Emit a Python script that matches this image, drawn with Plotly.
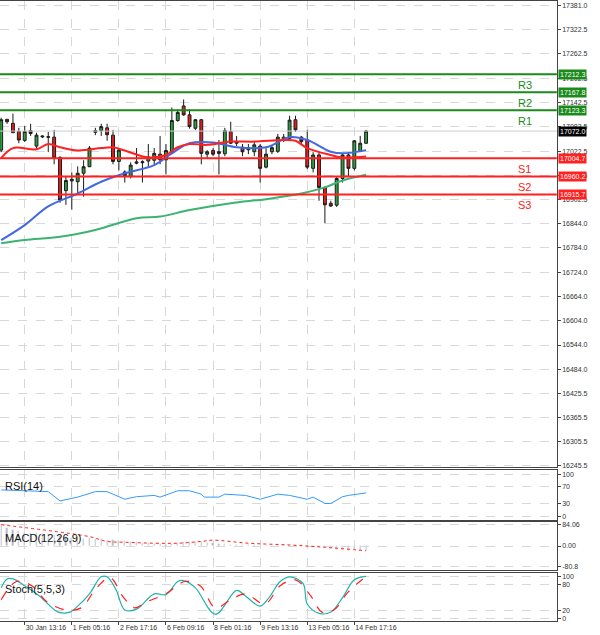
import plotly.graph_objects as go

opens  = [17025,17101,17091,17071,17049,17073,17035,17060,17058,17057,17007,16925,16949,16947,16968,16984,17069,17073,17080,17062,16997,16971,16960,16996,16994,16998,17000,17015,17001,17021,17098,17134,17112,17079,17100,17015,17024,17021,17016,17071,17046,17032,17026,17021,17035,16983,17021,17022,17057,17054,17100,17057,17050,16980,17013,16933,16894,16889,16955,17013,16980,17022,17042]
closes = [17100,17095,17068,17050,17071,17066,17062,17058,17057,17005,16902,16950,16953,16968,16984,17030,17073,17083,17063,16997,17025,16962,16988,16993,16996,17008,17017,17001,17024,17098,17118,17112,17083,17100,17017,17021,17015,17017,17073,17042,17042,17021,17030,17038,16980,17015,17031,17057,17050,17099,17075,17046,16983,17013,16933,16890,16887,16955,17013,16980,17048,17042,17072]
highs  = [17105,17101,17115,17080,17085,17090,17068,17062,17070,17075,17010,16960,16970,16985,17000,17035,17080,17090,17090,17075,17030,16975,16995,17030,17000,17040,17030,17060,17040,17130,17125,17150,17125,17102,17102,17025,17030,17050,17080,17095,17060,17040,17040,17045,17040,17030,17035,17065,17065,17110,17110,17060,17075,17020,17020,16935,16900,16960,17015,17020,17050,17060,17075]
lows   = [17020,17090,17068,17042,17045,17060,17030,17055,17020,16990,16895,16890,16878,16918,16910,16985,17062,17060,17048,16990,16975,16945,16955,16990,16945,16985,16990,16990,16965,17018,17095,17110,17078,17075,16990,17005,17010,16965,17010,17040,17035,17010,17015,17010,16945,16980,17015,17018,17045,17050,17070,17040,16978,16970,16900,16845,16885,16885,16945,16960,16975,17020,17040]

ma_red_x  = [0,2,6,8,10,13,17,19,21,25,28,30,32,35,39,43,48,50,52,56,58,62]
ma_red_y  = [17005,17030,17027,17040,17032,17024,17030,17032,17024,17007,17013,17032,17040,17038,17046,17046,17050,17048,17030,17013,17007,17009]
ma_blue_x = [0,4,8,13,17,21,26,29,32,36,40,45,49,52,56,58,62]
ma_blue_y = [16803,16840,16886,16918,16947,16968,16988,17017,17042,17044,17032,17032,17057,17050,17021,17017,17025]
ma_grn_x  = [0,4,10,16,23,27,32,39,45,51,55,58,62]
ma_grn_y  = [16795,16803,16811,16828,16857,16861,16877,16894,16904,16918,16933,16950,16964]

levels = [("R3",17212.3,"#1a8a1a"),("R2",17167.8,"#1a8a1a"),("R1",17123.3,"#1a8a1a"),
          ("S1",17004.7,"#ff2020"),("S2",16960.2,"#ff2020"),("S3",16915.7,"#ff2020")]
last_price = 17072.0
price_ticks = [17381.0,17322.5,17262.5,17202.5,17142.5,17083.5,17022.5,16962.5,16902.5,16844.0,16784.0,16724.0,16664.0,16604.0,16544.0,16484.0,16425.5,16365.5,16305.5,16245.5]

rsi_x = [0,8,10,13,16,18,19.5,21,23,26,27,30,32,34,34.5,37,38,41.5,44,47,49,52,53,55,56,58,59,60.5,62]
rsi_y = [63,59,37,46,59,59,50,41,47,50,46,61,61,53,46,46,53,50,41,53,50,41,46,31,31,47,50,53,56]

macd_hist = [80,72,65,60,55,52,50,48,46,45,40,35,32,30,28,30,28,26,25,22,20,18,16,14,12,10,8,6,5,8,12,14,15,16,14,12,10,8,6,5,4,3,2,2,1,0,1,2,3,4,3,2,0,-2,-5,-8,-12,-14,-16,-18,-17,-18,-19]
macd_sig_x = [0,15,18,21,26,30,34,36,42,49,55,62]
macd_sig_y = [84,37,18,15,11,11,18,23,11,4,-5,-19]

st_x = [0,1,2,4,6.5,9.7,11.7,13,15,17,18,19.5,21,23,26,28,30,31,33,36.4,40,41.5,44,45.5,47.4,49,51.3,52,54,56,58,60,62]
st_y = [73,94,94,78,54,16,16,30,59,99,99,69,21,23,59,57,88,90,73,11,67,54,30,50,88,99,83,35,13,16,50,92,100]
sg_x = [0,2.6,5.2,7.8,11,13.6,16.2,18.5,20.8,22.7,24.7,28,31.2,33.8,36.4,39,41.5,44.8,47.4,50,52.6,54.5,56.5,59,62]
sg_y = [45,88,78,40,21,26,73,97,50,26,40,59,88,78,26,45,59,35,78,92,54,16,21,64,100]

date_ticks = [-4,4,12,20,28,36,44,52,60]
date_labels = ["29 Jan 01:16","30 Jan 13:16","1 Feb 05:16","2 Feb 17:16","6 Feb 09:16","8 Feb 01:16","9 Feb 13:16","13 Feb 05:16","14 Feb 17:16"]

fig = go.Figure()
idx = list(range(len(opens)))
fig.add_trace(go.Candlestick(x=idx, open=opens, high=highs, low=lows, close=closes,
    increasing=dict(line=dict(color="#1a1a1a", width=1), fillcolor="#2e9e3e"),
    decreasing=dict(line=dict(color="#1a1a1a", width=1), fillcolor="#e02020"),
    whiskerwidth=0, xaxis="x", yaxis="y"))
fig.add_trace(go.Scatter(x=ma_grn_x, y=ma_grn_y, mode="lines", line=dict(color="#3cb371", width=2), line_shape="spline"))
fig.add_trace(go.Scatter(x=ma_blue_x, y=ma_blue_y, mode="lines", line=dict(color="#4169e1", width=2), line_shape="spline"))
fig.add_trace(go.Scatter(x=ma_red_x, y=ma_red_y, mode="lines", line=dict(color="#ff2020", width=2), line_shape="spline"))

XR = [-0.2, 94.4]
XD = 0.928
for name, val, col in levels:
    fig.add_shape(type="line", xref="paper", x0=0, x1=XD, yref="y", y0=val, y1=val, line=dict(color=col, width=2))
    fig.add_annotation(x=87.5, y=val, xref="x", yref="y", text=name, showarrow=False, yshift=-11,
                       font=dict(size=11, color=col), xanchor="left")
    fig.add_annotation(x=XD+0.002, xref="paper", y=val, yref="y", text=f"{val:.1f}", showarrow=False, xanchor="left",
                       bgcolor=col, font=dict(size=7, color="white", family="Liberation Sans"), borderpad=1)
fig.add_shape(type="line", xref="paper", x0=0, x1=XD, yref="y", y0=last_price, y1=last_price, line=dict(color="#cccccc", width=1))
fig.add_annotation(x=XD+0.002, xref="paper", y=last_price, yref="y", text=f"{last_price:.1f}", showarrow=False, xanchor="left",
                   bgcolor="black", font=dict(size=7, color="white", family="Liberation Sans"), borderpad=1)

fig.add_trace(go.Scatter(x=rsi_x, y=rsi_y, mode="lines", line=dict(color="#3399ff", width=1), xaxis="x2", yaxis="y2"))
fig.add_trace(go.Bar(x=idx, y=macd_hist, marker_color="#b0b0b0", width=0.2, xaxis="x3", yaxis="y3"))
fig.add_trace(go.Scatter(x=macd_sig_x, y=macd_sig_y, mode="lines", line=dict(color="#ff2020", width=1, dash="dot"), xaxis="x3", yaxis="y3", line_shape="spline"))
fig.add_trace(go.Scatter(x=st_x, y=st_y, mode="lines", line=dict(color="#20b2aa", width=1.2), xaxis="x4", yaxis="y4", line_shape="spline"))
fig.add_trace(go.Scatter(x=sg_x, y=sg_y, mode="lines", line=dict(color="#ff2020", width=1.2, dash="dash"), xaxis="x4", yaxis="y4", line_shape="spline"))

H = 635.0
def dom(top, bot): return [1 - bot/H, 1 - top/H]
grid = dict(showgrid=True, gridcolor="#d8d8d8", griddash="dash", gridwidth=1)
xcommon = dict(range=XR, domain=[0, XD], tickvals=date_ticks, showline=True, linecolor="#444", mirror=True, zeroline=False, automargin=False, **grid)
ycommon = dict(side="right", showline=True, linecolor="#444", mirror=True, zeroline=False, automargin=False,
               tickfont=dict(size=7, color="#333", family="Liberation Sans"), ticks="outside", ticklen=3, **grid)

fig.update_layout(
    width=600, height=635, margin=dict(l=0, r=0, t=0, b=0, pad=0, autoexpand=False), showlegend=False,
    paper_bgcolor="white", plot_bgcolor="white", font=dict(family="Liberation Sans"),
    bargap=0,
    xaxis=dict(**xcommon, showticklabels=False, rangeslider=dict(visible=False)),
    yaxis=dict(**ycommon, domain=dom(1, 467), range=[16243, 17393], tickvals=price_ticks, ticktext=[f"{v:.1f}" for v in price_ticks]),
    xaxis2=dict(**xcommon, anchor="y2", showticklabels=False),
    yaxis2=dict(**ycommon, anchor="x2", domain=dom(470, 520), range=[-8, 110], tickvals=[0,30,70,100]),
    xaxis3=dict(**xcommon, anchor="y3", showticklabels=False),
    yaxis3=dict(**ycommon, anchor="x3", domain=dom(522, 570), range=[-95, 95], tickvals=[-80.8,0,84.06], ticktext=["-80.8","0.00","84.06"]),
    xaxis4=dict(**xcommon, anchor="y4", ticktext=date_labels, tickangle=0, ticklabelposition="outside right",
                tickfont=dict(size=7, color="#333", family="Liberation Sans"), ticks="outside", ticklen=3),
    yaxis4=dict(**ycommon, anchor="x4", domain=dom(573, 621), range=[-5, 108], tickvals=[0,20,80,100]),
)
for txt, yp in [("RSI(14)", dom(470,520)[1]), ("MACD(12,26,9)", dom(522,570)[1]), ("Stoch(5,5,3)", dom(573,621)[1])]:
    fig.add_annotation(x=0.005, xref="paper", y=yp-0.012, yref="paper", text=txt, showarrow=False,
                       xanchor="left", yanchor="top", font=dict(size=11, color="#111"))
fig.write_html("out.html", config={"displayModeBar": False},
               post_script="document.body.style.margin='0';document.body.style.overflow='hidden';")
